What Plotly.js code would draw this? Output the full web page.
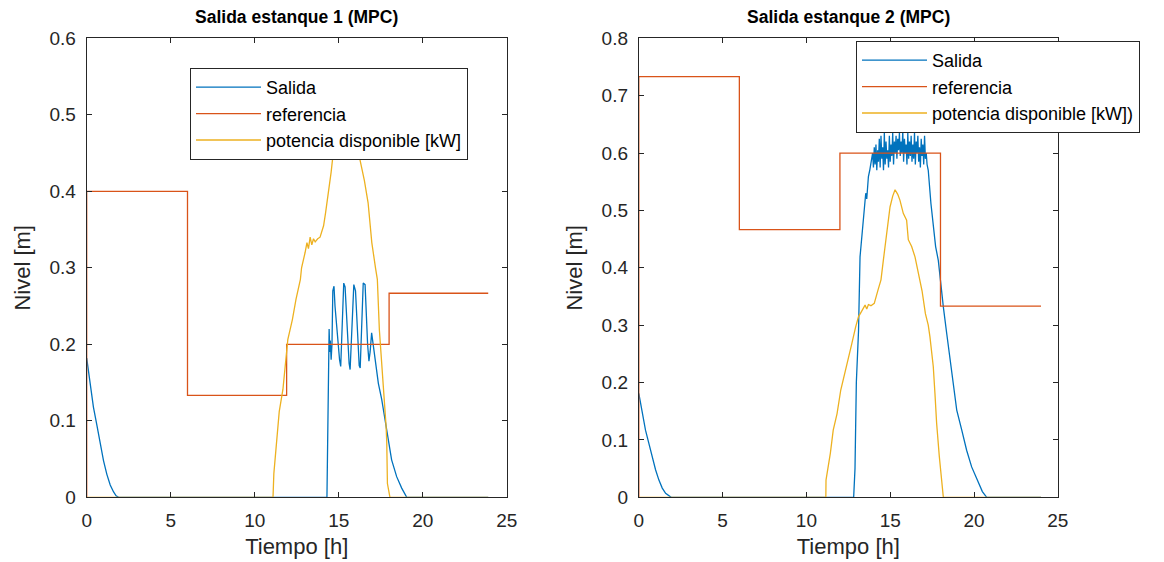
<!DOCTYPE html>
<html>
<head>
<meta charset="utf-8">
<script src="https://cdn.plot.ly/plotly-3.0.1.min.js"></script>
<style>html,body{margin:0;padding:0;background:#fff;}#chart{width:1164px;height:562px;}</style>
</head>
<body>
<div id="chart"></div>
<script>
// ---- Estanque 1 ----
const t1Salida = [0,0.2,0.4,0.6,0.8,1.0,1.2,1.4,1.6,1.75,1.9,14.3,14.33,14.38,14.43,14.47,14.5,14.55,14.6,14.65,14.72,14.78,14.85,14.95,15.05,15.12,15.2,15.3,15.38,15.45,15.55,15.62,15.68,15.78,15.9,16.0,16.07,16.15,16.22,16.28,16.36,16.46,16.57,16.63,16.72,16.8,16.87,16.96,17.05,17.17,17.36,17.56,17.76,17.95,18.15,18.45,18.75,19.05,23.9];
const y1Salida = [0.182,0.149,0.118,0.095,0.071,0.048,0.030,0.016,0.007,0.002,0,0,0.05,0.15,0.22,0.19,0.205,0.18,0.2,0.27,0.276,0.25,0.23,0.2,0.18,0.171,0.22,0.28,0.275,0.24,0.2,0.175,0.167,0.22,0.278,0.27,0.235,0.2,0.172,0.169,0.22,0.28,0.278,0.24,0.2,0.178,0.19,0.215,0.2,0.176,0.149,0.128,0.101,0.075,0.049,0.027,0.012,0,0];
const t1Ref = [0,0,6,6,11.9,11.9,18,18,23.9];
const y1Ref = [0,0.4,0.4,0.1333,0.1333,0.2,0.2,0.2667,0.2667];
const t1Pot = [0,11.09,11.14,11.31,11.46,11.68,11.84,11.97,12.24,12.46,12.72,12.79,13.0,13.11,13.2,13.3,13.4,13.5,13.6,13.75,13.89,14.1,14.22,14.39,14.55,14.7,14.9,15.1,15.3,15.5,15.7,15.95,16.15,16.31,16.53,16.75,16.97,17.19,17.3,17.42,17.5,17.62,17.7,17.82,17.86,17.9,18.05,23.9];
const y1Pot = [0,0,0.031,0.079,0.112,0.141,0.176,0.206,0.232,0.259,0.285,0.3,0.32,0.333,0.325,0.34,0.33,0.338,0.334,0.338,0.34,0.355,0.372,0.398,0.425,0.455,0.49,0.52,0.535,0.525,0.5,0.475,0.455,0.438,0.414,0.385,0.333,0.3,0.285,0.219,0.193,0.167,0.128,0.093,0.072,0.018,0,0];

// ---- Estanque 2 ----
const t2Salida = [0,0.2,0.4,0.6,0.8,1.0,1.2,1.4,1.6,1.8,1.93,12.82,12.9,12.98,13.11,13.2,13.3,13.4,13.47,13.54,13.6,13.7,13.78,13.85,13.9,
 13.95,14.0,14.05,14.1,14.15,14.2,14.25,14.3,14.35,14.4,14.45,14.5,14.55,14.6,14.65,14.7,14.75,14.8,14.85,14.9,14.95,15.0,15.05,15.1,15.15,15.2,15.25,15.3,15.35,15.4,15.45,15.5,15.55,15.6,15.65,15.7,15.75,15.8,15.85,15.9,15.95,16.0,16.05,16.1,16.15,16.2,16.25,16.3,16.35,16.4,16.45,16.5,16.55,16.6,16.65,16.7,16.75,16.8,16.85,16.9,16.95,17.0,17.05,17.1,17.15,17.2,
 17.27,17.43,17.57,17.71,17.87,17.95,18.07,18.17,18.37,18.57,18.77,18.97,19.27,19.56,19.86,20.26,20.5,20.76,24];
const y2Salida = [0.181,0.148,0.117,0.094,0.07,0.048,0.03,0.016,0.007,0.002,0,0,0.05,0.2,0.29,0.419,0.455,0.483,0.51,0.53,0.52,0.559,0.57,0.58,0.588,
 0.6,0.575,0.61,0.58,0.615,0.57,0.605,0.585,0.625,0.575,0.63,0.59,0.61,0.57,0.635,0.58,0.62,0.59,0.605,0.575,0.63,0.585,0.615,0.595,0.635,0.58,0.62,0.6,0.63,0.59,0.625,0.605,0.635,0.595,0.62,0.6,0.638,0.585,0.625,0.6,0.615,0.58,0.635,0.59,0.62,0.595,0.63,0.585,0.615,0.59,0.635,0.58,0.62,0.6,0.63,0.585,0.61,0.575,0.625,0.595,0.615,0.58,0.63,0.59,0.6,0.58,
 0.57,0.512,0.472,0.437,0.413,0.39,0.361,0.332,0.286,0.239,0.193,0.152,0.117,0.082,0.053,0.024,0.01,0,0];
const t2Ref = [0,0,6,6,12,12,18,18,24];
const y2Ref = [0,0.7333,0.7333,0.4667,0.4667,0.6,0.6,0.3333,0.3333];
const t2Pot = [0,11.16,11.17,11.43,11.6,11.83,12.05,12.27,12.45,12.71,12.94,13.11,13.25,13.38,13.5,13.6,13.7,13.85,14.05,14.27,14.45,14.59,14.69,14.85,14.99,15.15,15.29,15.45,15.58,15.78,15.98,16.08,16.28,16.48,16.7,16.9,17.1,17.27,17.37,17.57,17.67,17.77,17.93,18.07,18.17,24];
const y2Pot = [0,0,0.03,0.077,0.117,0.146,0.187,0.216,0.239,0.268,0.297,0.315,0.322,0.329,0.335,0.328,0.336,0.334,0.338,0.361,0.379,0.413,0.437,0.483,0.506,0.525,0.536,0.528,0.518,0.495,0.483,0.449,0.437,0.419,0.39,0.36,0.32,0.3,0.28,0.228,0.181,0.129,0.071,0.03,0,0];

const names1 = ['Salida','referencia','potencia disponible [kW]'];
const names2 = ['Salida','referencia','potencia disponible [kW])'];
const titles = ['Salida estanque 1 (MPC)','Salida estanque 2 (MPC)'];
const xTitle = 'Tiempo [h]';
const yTitle = 'Nivel [m]';

const cBlue = '#0072BD', cOrange = '#D95319', cYellow = '#EDB120';
const lw = 1.3;
const FONT = 'Arial, "Liberation Sans", Helvetica, sans-serif';
const axisCol = '#262626';

function tr(x, y, name, color, xa, ya, leg) {
  return {x: x, y: y, name: name, type: 'scatter', mode: 'lines',
    line: {color: color, width: lw}, xaxis: xa, yaxis: ya, legend: leg, hoverinfo: 'skip'};
}

const data = [
  tr(t1Salida, y1Salida, names1[0], cBlue, 'x', 'y', 'legend'),
  tr(t1Ref, y1Ref, names1[1], cOrange, 'x', 'y', 'legend'),
  tr(t1Pot, y1Pot, names1[2], cYellow, 'x', 'y', 'legend'),
  tr(t2Salida, y2Salida, names2[0], cBlue, 'x2', 'y2', 'legend2'),
  tr(t2Ref, y2Ref, names2[1], cOrange, 'x2', 'y2', 'legend2'),
  tr(t2Pot, y2Pot, names2[2], cYellow, 'x2', 'y2', 'legend2')
];

const W = 1164, H = 562;
function xax(d0, d1, anchor) {
  return {domain: [d0 / W, d1 / W], anchor: anchor, range: [0, 25], dtick: 5, tick0: 0,
    showgrid: false, zeroline: false, showline: true, linecolor: axisCol, linewidth: 1,
    mirror: 'ticks', ticks: 'inside', ticklen: 5, tickcolor: axisCol,
    tickfont: {family: FONT, size: 19, color: axisCol}, ticklabelstandoff: 6,
    title: {text: xTitle, font: {family: FONT, size: 22, color: axisCol}, standoff: 8}, fixedrange: true};
}
function yax(max, anchor) {
  return {domain: [1 - 497.3 / H, 1 - 38.3 / H], anchor: anchor, range: [0, max], dtick: 0.1, tick0: 0,
    showgrid: false, zeroline: false, showline: true, linecolor: axisCol, linewidth: 1,
    mirror: 'ticks', ticks: 'inside', ticklen: 5, tickcolor: axisCol,
    tickfont: {family: FONT, size: 19, color: axisCol}, ticklabelstandoff: 6,
    title: {text: yTitle, font: {family: FONT, size: 22, color: axisCol}, standoff: 12}, fixedrange: true};
}

const legFont = {family: FONT, size: 18, color: '#000'};
const layout = {
  width: W, height: H,
  margin: {l: 0, r: 0, t: 0, b: 0},
  paper_bgcolor: '#fff', plot_bgcolor: '#fff',
  showlegend: true,
  xaxis: xax(86.7, 506.7, 'y'),
  yaxis: yax(0.6, 'x'),
  xaxis2: xax(638.8, 1057.8, 'y2'),
  yaxis2: yax(0.8, 'x2'),
  legend: {x: 190 / W, y: 1 - 68 / H, xanchor: 'left', yanchor: 'top', bgcolor: '#fff',
    bordercolor: axisCol, borderwidth: 1, font: legFont, itemwidth: 65, tracegroupgap: 0},
  legend2: {x: 856 / W, y: 1 - 41 / H, xanchor: 'left', yanchor: 'top', bgcolor: '#fff',
    bordercolor: axisCol, borderwidth: 1, font: legFont, itemwidth: 65, tracegroupgap: 0},
  annotations: [
    {text: '<b>' + titles[0] + '</b>', xref: 'paper', yref: 'paper', x: (86.7 + 506.7) / 2 / W, y: 1 - 17 / H,
      xanchor: 'center', yanchor: 'middle', showarrow: false, font: {family: FONT, size: 17.5, color: '#000'}},
    {text: '<b>' + titles[1] + '</b>', xref: 'paper', yref: 'paper', x: (638.8 + 1057.8) / 2 / W, y: 1 - 17 / H,
      xanchor: 'center', yanchor: 'middle', showarrow: false, font: {family: FONT, size: 17.5, color: '#000'}}
  ]
};

Plotly.newPlot('chart', data, layout, {staticPlot: true, displayModeBar: false});
</script>
</body>
</html>
